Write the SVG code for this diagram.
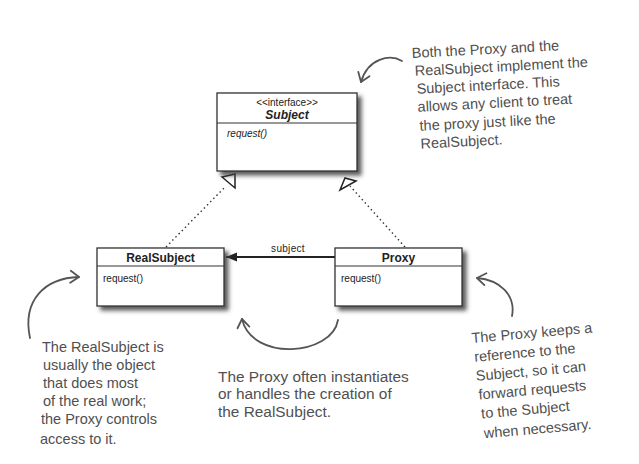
<svg xmlns="http://www.w3.org/2000/svg" width="639" height="464" viewBox="0 0 639 464">
<defs>
<filter id="sh" x="-10%" y="-10%" width="130%" height="140%">
<feDropShadow dx="4" dy="4" stdDeviation="2.2" flood-color="#404040" flood-opacity="0.85"/>
</filter>
<marker id="filled" markerWidth="12" markerHeight="10" refX="11" refY="4.5" orient="auto" markerUnits="userSpaceOnUse">
<path d="M0,0 L11,4.5 L0,9 Z" fill="#222"/>
</marker>
<marker id="pen" markerWidth="14" markerHeight="16" refX="11" refY="8" orient="auto" markerUnits="userSpaceOnUse">
<path d="M3,1.5 L11,8 L2,13.5" fill="none" stroke="#555" stroke-width="1.8" stroke-linecap="round" stroke-linejoin="round"/>
</marker>
</defs>
<style>
.box{fill:#fff;stroke:#333;stroke-width:1.3}
.div{stroke:#333;stroke-width:1.1}
.uml{font-family:"Liberation Sans",Arial,sans-serif;fill:#222}
.hand{font-family:"Liberation Sans",Arial,sans-serif;font-size:14.5px;fill:#505050}
.mid{font-size:15.4px}
.dot{stroke:#333;stroke-width:1.4;stroke-dasharray:1.5 3;fill:none}
.tri{fill:#fff;stroke:#222;stroke-width:1.5;stroke-linejoin:miter}
.curve{fill:none;stroke:#555;stroke-width:1.8;stroke-linecap:round}
</style>
<rect width="639" height="464" fill="#fff"/>

<g id="connectors">
<line class="dot" x1="166" y1="247" x2="226" y2="186"/>
<polygon class="tri" points="222,177 235,174 235,188"/>
<line class="dot" x1="405" y1="247" x2="350" y2="186"/>
<polygon class="tri" points="340,190 345,178 356,181"/>
<line x1="335" y1="257" x2="226" y2="257" stroke="#222" stroke-width="1.8" marker-end="url(#filled)"/>
<text class="uml" x="288" y="252" font-size="10" text-anchor="middle" letter-spacing="0.3">subject</text>
<path class="curve" d="M402,61 C390,54 368,58 361,82" marker-end="url(#pen)"/>
<path class="curve" d="M30,338 C22,300 45,278 79,277" marker-end="url(#pen)"/>
<path class="curve" d="M338,320 C332,356 252,362 242,319" marker-end="url(#pen)"/>
<path class="curve" d="M512,316 C516,295 500,280 477,278" marker-end="url(#pen)"/>
</g>

<g id="subject">
<rect class="box" x="217" y="93" width="140" height="78" filter="url(#sh)"/>
<line class="div" x1="217" y1="123" x2="357" y2="123"/>
<text class="uml" x="287" y="106" font-size="10" text-anchor="middle">&lt;&lt;interface&gt;&gt;</text>
<text class="uml" x="287" y="118.5" font-size="12" font-weight="bold" font-style="italic" text-anchor="middle">Subject</text>
<text class="uml" x="227" y="137" font-size="10" font-style="italic">request()</text>
</g>

<g id="realsubject">
<rect class="box" x="97" y="248" width="127" height="58" filter="url(#sh)"/>
<line class="div" x1="97" y1="266" x2="224" y2="266"/>
<text class="uml" x="160.5" y="261.5" font-size="12" font-weight="bold" text-anchor="middle">RealSubject</text>
<text class="uml" x="103" y="282" font-size="10">request()</text>
</g>

<g id="proxy">
<rect class="box" x="335" y="248" width="127" height="58" filter="url(#sh)"/>
<line class="div" x1="335" y1="266" x2="462" y2="266"/>
<text class="uml" x="398.5" y="262" font-size="12" font-weight="bold" text-anchor="middle">Proxy</text>
<text class="uml" x="341" y="282" font-size="10">request()</text>
</g>

<g id="note-top" transform="rotate(-3 412 58)">
<text class="hand" x="412" y="58">Both the Proxy and the</text>
<text class="hand" x="414" y="76">RealSubject implement the</text>
<text class="hand" x="415" y="94">Subject interface. This</text>
<text class="hand" x="415" y="112">allows any client to treat</text>
<text class="hand" x="416" y="131">the proxy just like the</text>
<text class="hand" x="416" y="149">RealSubject.</text>
</g>

<g id="note-left">
<text class="hand" x="42" y="352">The RealSubject is</text>
<text class="hand" x="43" y="370">usually the object</text>
<text class="hand" x="43" y="388">that does most</text>
<text class="hand" x="43" y="406">of the real work;</text>
<text class="hand" x="41" y="424">the Proxy controls</text>
<text class="hand" x="40" y="444">access to it.</text>
</g>

<g id="note-middle">
<text class="hand mid" x="218" y="382">The Proxy often instantiates</text>
<text class="hand mid" x="218" y="399">or handles the creation of</text>
<text class="hand mid" x="218" y="417">the RealSubject.</text>
</g>

<g id="note-right" transform="rotate(-5 472 343)">
<text class="hand" x="472" y="343">The Proxy keeps a</text>
<text class="hand" x="473" y="362">reference to the</text>
<text class="hand" x="473" y="381">Subject, so it can</text>
<text class="hand" x="474" y="400">forward requests</text>
<text class="hand" x="475" y="419">to the Subject</text>
<text class="hand" x="476" y="439">when necessary.</text>
</g>
</svg>
